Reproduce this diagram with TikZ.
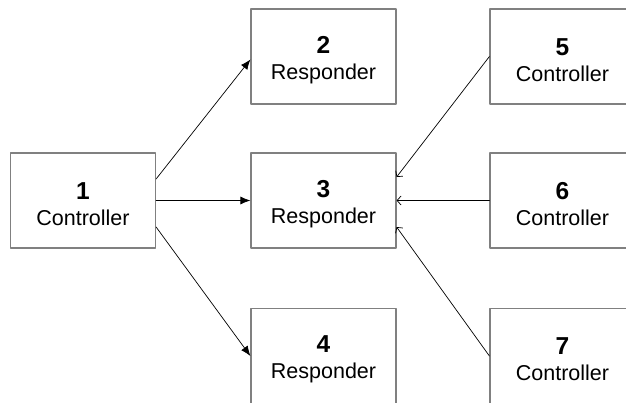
\documentclass[tikz,border=0pt]{standalone}
\usepackage{fontspec}
\setmainfont{Liberation Sans}
\usetikzlibrary{arrows.meta}
\newcommand\boxtext[2]{\rule{0pt}{24pt}{\fontsize{24.5}{26}\selectfont\bfseries #1}\\#2}
\begin{document}
\begin{tikzpicture}[x=1pt,y=-1pt,line join=round,line cap=round,
	box/.style={draw=gray,line width=1.2pt,minimum width=145pt,minimum height=95pt,
		inner sep=0pt,align=center,font=\fontsize{21.5}{26}\selectfont},
	outarrow/.style={-{Latex[length=10pt,width=8pt]},line width=0.7pt},
	backarrow/.style={-{Straight Barb[length=4pt,width=9pt]},line width=0.7pt}]
	\useasboundingbox (0,0) rectangle (626,402);
	\clip (0,0) rectangle (626,402);
	\node[box] (n1) at (83,200.5) {\boxtext{1}{Controller}};
	\node[box] (n2) at (323.5,56.5) {\boxtext{2}{Responder}};
	\node[box] (n3) at (323.5,200.5) {\boxtext{3}{Responder}};
	\node[box] (n4) at (323.5,356) {\boxtext{4}{Responder}};
	\node[box] (n5) at (562.5,56.5) {\boxtext{5}{Controller}};
	\node[box] (n6) at (562.5,200.5) {\boxtext{6}{Controller}};
	\node[box] (n7) at (562.5,356) {\boxtext{7}{Controller}};
	% controller 1 to the responders
	\draw[outarrow] ([yshift=21.5pt]n1.east) -- ([yshift=-3pt]n2.west);
	\draw[outarrow] (n1.east) -- (n3.west);
	\draw[outarrow] ([yshift=-26.5pt]n1.east) -- (n4.west);
	% other controllers to responder 3
	\draw[backarrow] (n5.west) -- ([yshift=23.5pt]n3.east);
	\draw[backarrow] (n6.west) -- (n3.east);
	\draw[backarrow] (n7.west) -- ([yshift=-26.5pt]n3.east);
\end{tikzpicture}
\end{document}
